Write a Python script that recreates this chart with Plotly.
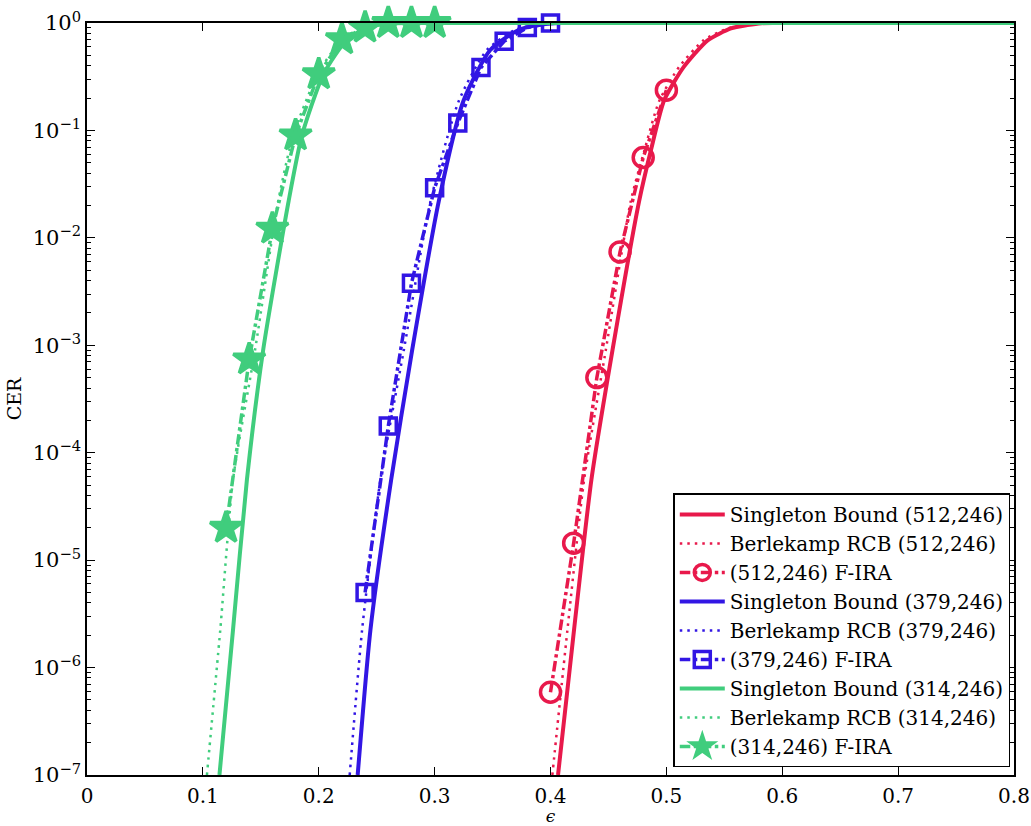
import plotly.graph_objects as go

# ---- (512,246) code ----
sb512_eps = [0.4065, 0.4203, 0.4353, 0.4535, 0.4765, 0.4866, 0.498, 0.515, 0.5356, 0.5558, 0.570, 0.582, 0.595, 0.80]
sb512_cer = [1e-7, 2.24e-6, 5.6e-5, 9.0e-4, 2.2e-2, 6.5e-2, 0.19, 0.39, 0.69, 0.89, 0.955, 0.995, 1.0, 1.0]
rcb512_eps = [0.4016, 0.4146, 0.429, 0.4477, 0.4693, 0.481, 0.494, 0.511, 0.532, 0.553, 0.568, 0.581, 0.595]
rcb512_cer = [1e-7, 2.24e-6, 5.6e-5, 9.0e-4, 2.2e-2, 6.5e-2, 0.19, 0.39, 0.69, 0.89, 0.955, 0.995, 1.0]
ira512_eps = [0.40, 0.42, 0.44, 0.46, 0.48, 0.50]
ira512_cer = [5.9e-7, 1.44e-5, 5.0e-4, 7.4e-3, 5.6e-2, 0.237]

# ---- (379,246) code ----
sb379_eps = [0.2336, 0.2446, 0.2625, 0.2806, 0.3036, 0.325, 0.348, 0.372, 0.39, 0.41, 0.80]
sb379_cer = [1e-7, 2.24e-6, 5.6e-5, 9.0e-4, 2.2e-2, 0.19, 0.56, 0.855, 0.96, 1.0, 1.0]
rcb379_eps = [0.2267, 0.2374, 0.2532, 0.2734, 0.2965, 0.321, 0.345, 0.369, 0.387, 0.405]
rcb379_cer = [1e-7, 2.24e-6, 5.6e-5, 9.0e-4, 2.2e-2, 0.19, 0.56, 0.86, 0.96, 1.0]
ira379_eps = [0.24, 0.26, 0.28, 0.30, 0.32, 0.34, 0.36, 0.38, 0.40]
ira379_cer = [5.0e-6, 1.77e-4, 3.77e-3, 2.92e-2, 0.117, 0.385, 0.676, 0.906, 1.0]

# ---- (314,246) code ----
sb314_eps = [0.1143, 0.126, 0.138, 0.152, 0.174, 0.1855, 0.204, 0.2245, 0.2417, 0.253, 0.265, 0.28, 0.80]
sb314_cer = [1e-7, 2.24e-6, 5.6e-5, 9.0e-4, 2.2e-2, 9.0e-2, 0.333, 0.705, 0.906, 0.97, 0.995, 1.0, 1.0]
rcb314_eps = [0.1035, 0.115, 0.126, 0.145, 0.165, 0.178, 0.199, 0.220, 0.238, 0.251, 0.265]
rcb314_cer = [1e-7, 2.24e-6, 5.6e-5, 9.0e-4, 2.2e-2, 9.0e-2, 0.333, 0.705, 0.906, 0.97, 1.0]
ira314_eps = [0.12, 0.14, 0.16, 0.18, 0.20, 0.22, 0.24, 0.26, 0.28, 0.30]
ira314_cer = [2.0e-5, 7.4e-4, 1.22e-2, 9.0e-2, 0.333, 0.705, 0.906, 1.0, 1.0, 1.0]

x_ticks = [0, 0.1, 0.2, 0.3, 0.4, 0.5, 0.6, 0.7, 0.8]
x_ticklabels = ["0", "0.1", "0.2", "0.3", "0.4", "0.5", "0.6", "0.7", "0.8"]
y_exponents = [-7, -6, -5, -4, -3, -2, -1, 0]

RED = "rgb(232,25,75)"
BLUE = "rgb(50,22,228)"
GREEN = "rgb(64,205,125)"
FONT = "DejaVu Serif"

fig = go.Figure()

groups = [
    ("(512,246)", RED, "circle-open", 20, sb512_eps, sb512_cer, rcb512_eps, rcb512_cer, ira512_eps, ira512_cer),
    ("(379,246)", BLUE, "square-open", 16, sb379_eps, sb379_cer, rcb379_eps, rcb379_cer, ira379_eps, ira379_cer),
    ("(314,246)", GREEN, "star", 24, sb314_eps, sb314_cer, rcb314_eps, rcb314_cer, ira314_eps, ira314_cer),
]

for code, color, symbol, msize, sx, sy, bx, by, ix, iy in groups:
    # Singleton bound: thick solid curve
    fig.add_trace(go.Scatter(
        x=sx, y=sy, mode="lines", name=f"Singleton Bound {code}",
        line=dict(color=color, width=4, shape="spline", smoothing=0.6),
    ))
    # Berlekamp random coding bound: dotted curve
    fig.add_trace(go.Scatter(
        x=bx, y=by, mode="lines", name=f"Berlekamp RCB {code}",
        line=dict(color=color, width=2.5, dash="2.5px,5px", shape="spline", smoothing=0.6),
    ))
    # Simulated F-IRA codes: dash-dot with markers
    fig.add_trace(go.Scatter(
        x=ix, y=iy, mode="lines+markers", name=f"{code} F-IRA",
        line=dict(color=color, width=3.5, dash="dashdot"),
        marker=dict(symbol=symbol, size=msize, color=color,
                    line=dict(color=color, width=3.5)),
        cliponaxis=False,
    ))

fig.update_layout(
    width=1031, height=826,
    margin=dict(l=87, r=17, t=23, b=51),
    paper_bgcolor="white", plot_bgcolor="white",
    font=dict(family=FONT, size=20, color="black"),
    showlegend=True,
    legend=dict(
        x=0.996, y=0.01, xanchor="right", yanchor="bottom",
        bgcolor="white", bordercolor="black", borderwidth=1.5,
        font=dict(family=FONT, size=20, color="black"), tracegroupgap=0,
        itemwidth=45,
    ),
)

fig.update_xaxes(
    range=[0, 0.8], tickvals=x_ticks, ticktext=x_ticklabels,
    ticks="inside", ticklen=8, tickwidth=1.3, tickcolor="black",
    showline=True, linecolor="black", linewidth=1.5, mirror="ticks",
    showgrid=False, zeroline=False, automargin=False,
    ticklabelstandoff=2,
    title=dict(text="<i>ϵ</i>", font=dict(family=FONT, size=17), standoff=7),
    tickfont=dict(family=FONT, size=20),
)

fig.update_yaxes(
    type="log", range=[-7, 0],
    tickvals=[10.0 ** e for e in y_exponents],
    ticktext=[f"10<sup>{str(e).replace('-', '−')}</sup>" for e in y_exponents],
    ticks="inside", ticklen=8, tickwidth=1.3, tickcolor="black",
    minor=dict(
        tickvals=[k * 10.0 ** e for e in range(-7, 0) for k in range(2, 10)],
        ticks="inside", ticklen=4, tickcolor="black", tickwidth=1, showgrid=False,
    ),
    showline=True, linecolor="black", linewidth=1.5, mirror="ticks",
    showgrid=False, zeroline=False, automargin=False,
    title=dict(text="CER", font=dict(family=FONT, size=19), standoff=6),
    tickfont=dict(family=FONT, size=21),
)

fig.write_html("out.html")
